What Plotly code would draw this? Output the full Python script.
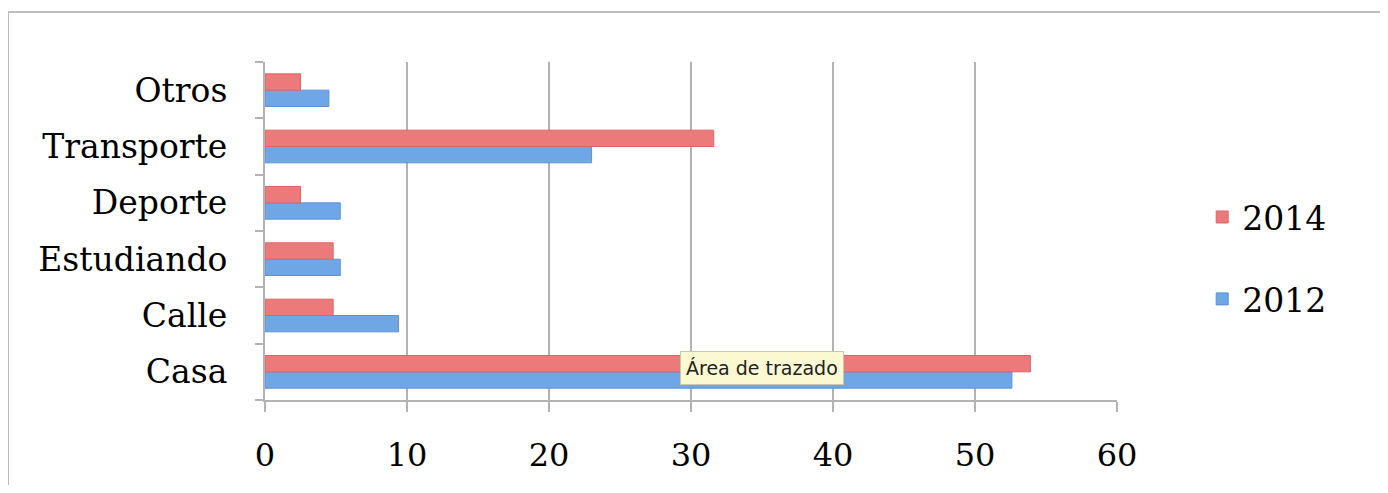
import plotly.graph_objects as go

categories = ["Casa", "Calle", "Estudiando", "Deporte", "Transporte", "Otros"]
values_2012 = [52.6, 9.4, 5.3, 5.3, 23.0, 4.5]
values_2014 = [53.9, 4.8, 4.8, 2.5, 31.6, 2.5]
series_names = ["2012", "2014"]
x_ticks = [0, 10, 20, 30, 40, 50, 60]

FONT = "DejaVu Serif"
GRID = "#b3b3b3"

fig = go.Figure()
fig.add_trace(go.Bar(
    y=categories, x=values_2012, name=series_names[0], orientation="h",
    marker=dict(color="#6fa6e6", line=dict(color="#5b93d6", width=1)),
    legendgroup="a", legendrank=2,
))
fig.add_trace(go.Bar(
    y=categories, x=values_2014, name=series_names[1], orientation="h",
    marker=dict(color="#ec7a7a", line=dict(color="#de6464", width=1)),
    legendgroup="b", legendrank=1,
))

fig.update_layout(
    width=1372, height=477,
    margin=dict(l=257, r=263, t=54, b=85),
    paper_bgcolor="white", plot_bgcolor="white",
    barmode="group", bargap=0.42, bargroupgap=0.0,
    font=dict(family=FONT, size=33, color="black"),
    showlegend=True,
    legend=dict(
        x=1.100, y=0.42, xanchor="left", yanchor="middle",
        traceorder="grouped", tracegroupgap=36,
        font=dict(family=FONT, size=33, color="black"),
        bgcolor="rgba(0,0,0,0)",
    ),
    xaxis=dict(
        range=[0, 60], tickvals=x_ticks, ticktext=[str(v) for v in x_ticks],
        showgrid=True, gridcolor=GRID, gridwidth=2,
        showline=True, linecolor=GRID, linewidth=2,
        ticks="outside", ticklen=10, tickwidth=2, tickcolor=GRID,
        zeroline=False, ticklabelstandoff=16,
        tickfont=dict(family=FONT, size=32, color="black"),
        fixedrange=True,
    ),
    yaxis=dict(
        categoryorder="array", categoryarray=categories,
        showline=True, linecolor=GRID, linewidth=2,
        ticks="outside", ticklen=8, tickwidth=2, tickcolor=GRID,
        tickson="boundaries", showgrid=False,
        ticklabelstandoff=29,
        tickfont=dict(family=FONT, size=33, color="black"),
        fixedrange=True,
    ),
    shapes=[dict(
        type="rect", xref="paper", yref="paper",
        x0=-0.3016, x1=1.311, y0=-0.40, y1=1.148,
        line=dict(color="#bdbdbd", width=2), fillcolor="rgba(0,0,0,0)",
        layer="below",
    )],
    annotations=[dict(
        text="Área de trazado", x=29.2, y="Casa", xref="x", yref="y",
        xanchor="left", yanchor="middle", yshift=4, showarrow=False,
        font=dict(family="DejaVu Sans", size=19, color="#222222"),
        bgcolor="#fbf9d2", bordercolor="#c8c8b0", borderwidth=1, borderpad=5,
    )],
)

fig.write_html("out.html")
